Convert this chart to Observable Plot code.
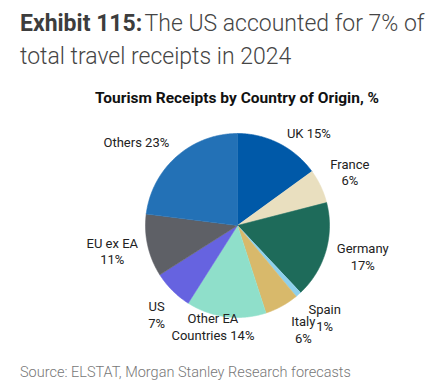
<!DOCTYPE html>
<html>
<head>
<meta charset="utf-8">
<script src="https://cdn.jsdelivr.net/npm/d3@7"></script>
<script src="https://cdn.jsdelivr.net/npm/@observablehq/plot@0.6"></script>
<style>
  html, body { margin: 0; padding: 0; background: #fff; }
  body { width: 448px; height: 391px; position: relative; overflow: hidden; font-family: Roboto, "Noto Sans", sans-serif; }
  #title { position: absolute; left: 20px; top: 7px; font-size: 23px; line-height: 33px; color: #454545; font-weight: 300; white-space: nowrap; }
  #title b { font-weight: 700; color: #3d3d3d; }
  #ctitle { position: absolute; left: 0; width: 474px; top: 89px; text-align: center; font-size: 15.5px; line-height: 19px; font-weight: 700; color: #111; white-space: nowrap; letter-spacing: 0px; }
  #chart { position: absolute; left: 0; top: 108px; }
  #source { position: absolute; left: 20px; top: 364px; font-size: 14.5px; line-height: 18px; color: #777; font-weight: 300; white-space: nowrap; }
</style>
</head>
<body>
<div id="title"><b>Exhibit 115:</b>&#8202;The US accounted for 7% of<br>total travel receipts in 2024</div>
<div id="ctitle">Tourism Receipts by Country of Origin, %</div>
<div id="chart"></div>
<div id="source">Source: ELSTAT, Morgan Stanley Research forecasts</div>
<script>
// ---- data ----
const names = ["UK", "France", "Germany", "Spain", "Italy", "Other EA Countries", "US", "EU ex EA", "Others"];
const values = [15, 6, 17, 1, 6, 14, 7, 11, 23];
const labels = ["UK 15%", "France\n6%", "Germany\n17%", "Spain\n1%", "Italy\n6%", "Other EA\nCountries 14%", "US\n7%", "EU ex EA\n11%", "Others 23%"];
const colors = ["#0059a8", "#e9dfbf", "#1e6b5a", "#8ed0ec", "#d8b96b", "#8fdfca", "#6663e0", "#5e6066", "#2371b6"];

// ---- layout (pixels) ----
const W = 448, H = 245, CX = 237, CY = 117, R = 92;
const labelRadius = 1.35;
const labelNudge = [[15, 18], [0, -1], [6, -4], [5, -2], [6, -5], [-9, -23], [7, 1], [-4, -2], [-19, 9]];

const rows = names.map((name, i) => ({name, value: values[i], label: labels[i], i}));
const arcs = d3.pie().sort(null).value(d => d.value)(rows);

const points = [];
for (const a of arcs) {
  const n = Math.max(2, Math.ceil((a.endAngle - a.startAngle) / (Math.PI / 360)));
  points.push({name: a.data.name, x: 0, y: 0});
  for (let k = 0; k <= n; k++) {
    const t = a.startAngle + (a.endAngle - a.startAngle) * k / n;
    points.push({name: a.data.name, x: Math.sin(t), y: Math.cos(t)});
  }
}

const labelRows = arcs.map(a => {
  const m = (a.startAngle + a.endAngle) / 2;
  const [nx, ny] = labelNudge[a.data.i];
  return {
    label: a.data.label,
    x: labelRadius * Math.sin(m) + nx / R,
    y: labelRadius * Math.cos(m) - ny / R
  };
});

const chart = Plot.plot({
  width: W,
  height: H,
  margin: 0,
  x: {domain: [-CX / R, (W - CX) / R], range: [0, W], axis: null},
  y: {domain: [-(H - CY) / R, CY / R], range: [H, 0], axis: null},
  color: {domain: names, range: colors},
  style: {fontFamily: "Roboto, 'Noto Sans', sans-serif", background: "transparent", overflow: "visible"},
  marks: [
    Plot.line(points, {x: "x", y: "y", z: "name", fill: "name", stroke: "name", strokeWidth: 0.6, curve: "linear"}),
    Plot.text(labelRows, {x: "x", y: "y", text: "label", fontSize: 13, lineHeight: 1.3, fill: "#222", textAnchor: "middle", lineAnchor: "middle"})
  ]
});
document.getElementById("chart").appendChild(chart);
</script>
</body>
</html>
